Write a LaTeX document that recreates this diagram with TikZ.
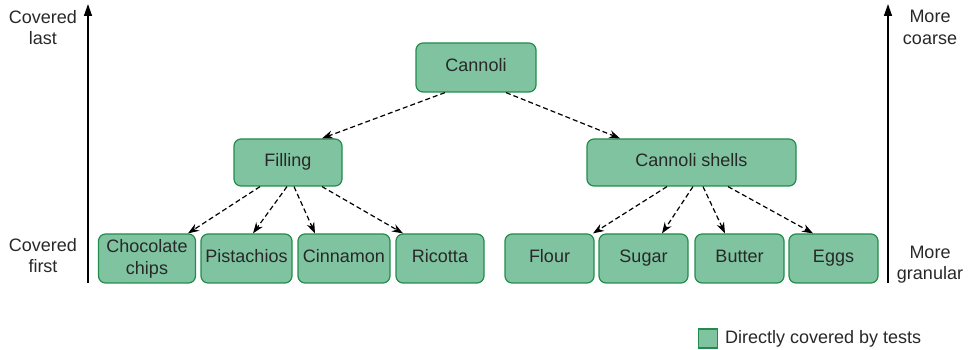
\documentclass[tikz,border=0pt]{standalone}
\usepackage{fontspec}
\setmainfont{Liberation Sans}
\usetikzlibrary{arrows.meta,calc}
\definecolor{boxfill}{RGB}{128,195,161}
\definecolor{boxdraw}{RGB}{35,140,75}
\definecolor{txt}{RGB}{40,40,40}
\tikzset{
  item/.style={draw=boxdraw, fill=boxfill, line width=1.2pt, rounded corners=7pt, inner sep=0pt, align=center, text=txt, font=\fontsize{18}{22}\selectfont},
  oneline/.style={text height=13pt, text depth=4pt},
  dep/.style={dashed, dash pattern=on 5pt off 3pt, line width=1.2pt, -{Stealth[length=11pt,width=8pt]}},
  axis/.style={line width=1.4pt, -{Triangle[length=12pt,width=8pt]}},
  side/.style={align=center, text=txt, font=\fontsize{18}{21.5}\selectfont, inner sep=0pt}
}
\begin{document}
\begin{tikzpicture}[x=1pt,y=1pt]
\useasboundingbox (0,0) rectangle (972,350);
% nodes
\node[item, oneline, minimum width=120pt, minimum height=49pt] (can) at (476,282.5) {Cannoli};
\node[item, oneline, minimum width=108pt, minimum height=47pt] (fill) at (288,187.5) {Filling};
\node[item, oneline, minimum width=209pt, minimum height=47pt] (shell) at (691.5,187.5) {Cannoli shells};
\node[item, minimum width=97pt, minimum height=49pt] (choc) at (147,91.5) {Chocolate\\chips};
\node[item, oneline, minimum width=91pt, minimum height=49pt] (pist) at (246.5,91.5) {Pistachios};
\node[item, oneline, minimum width=92pt, minimum height=49pt] (cinn) at (344,91.5) {Cinnamon};
\node[item, oneline, minimum width=88pt, minimum height=49pt] (ric) at (440,91.5) {Ricotta};
\node[item, oneline, minimum width=89pt, minimum height=49pt] (flour) at (549.5,91.5) {Flour};
\node[item, oneline, minimum width=89pt, minimum height=49pt] (sugar) at (643.5,91.5) {Sugar};
\node[item, oneline, minimum width=89pt, minimum height=49pt] (butter) at (739.5,91.5) {Butter};
\node[item, oneline, minimum width=89pt, minimum height=49pt] (eggs) at (833.5,91.5) {Eggs};
% connectors
\draw[dep] ([xshift=-31pt]can.south) -- ([xshift=34pt]fill.north);
\draw[dep] ([xshift=30pt]can.south) -- ([xshift=-71.5pt]shell.north);
\draw[dep] ([xshift=-28pt]fill.south) -- ([xshift=41pt]choc.north);
\draw[dep] ([xshift=-1pt]fill.south) -- ([xshift=6.5pt]pist.north);
\draw[dep] ([xshift=6pt]fill.south) -- ([xshift=-29pt]cinn.north);
\draw[dep] ([xshift=34pt]fill.south) -- ([xshift=-37pt]ric.north);
\draw[dep] ([xshift=-24.5pt]shell.south) -- ([xshift=43.5pt]flour.north);
\draw[dep] ([xshift=1.5pt]shell.south) -- ([xshift=18.5pt]sugar.north);
\draw[dep] ([xshift=11.5pt]shell.south) -- ([xshift=-14.5pt]butter.north);
\draw[dep] ([xshift=36.5pt]shell.south) -- ([xshift=-20.5pt]eggs.north);
% axes
\coordinate (la) at (88,67);
\coordinate (lb) at (88,346);
\coordinate (ra) at (888,67);
\coordinate (rb) at (888,346);
\draw[axis] (la) -- (lb);
\draw[axis] (ra) -- (rb);
\node[side] (cl) at (43,322.5) {Covered\\last};
\node[side] (cf) at (43,94.5) {Covered\\first};
\node[side] (mc) at (930,322.5) {More\\coarse};
\node[side] (mg) at (930,85.5) {More\\granular};
% legend
\node[draw=boxdraw, fill=boxfill, line width=1.2pt, minimum size=19pt, inner sep=0pt] (leg) at (708,11.5) {};
\node[side, anchor=west] (legt) at (725,11.5) {Directly covered by tests};
\end{tikzpicture}
\end{document}
